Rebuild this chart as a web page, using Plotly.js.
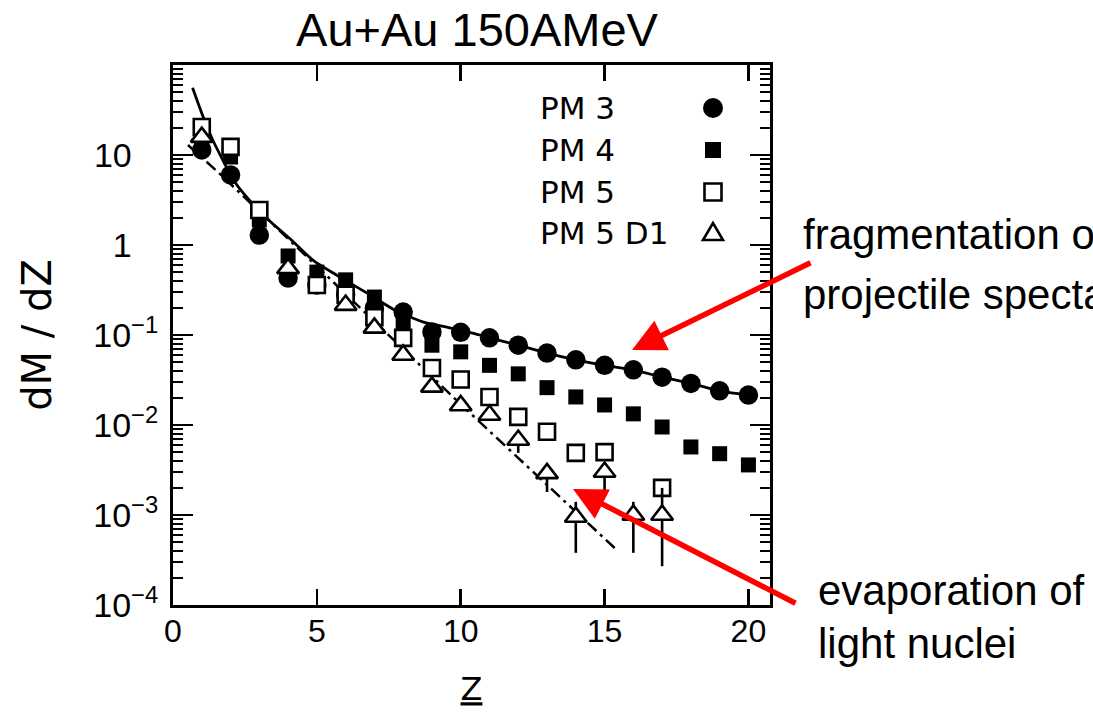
<!DOCTYPE html>
<html>
<head>
<meta charset="utf-8">
<script src="https://cdn.plot.ly/plotly-3.0.1.min.js"></script>
<style>html,body{margin:0;padding:0;background:#fff;}#chart{width:1093px;height:713px;}</style>
</head>
<body>
<div id="chart"></div>
<script>
// ---- data ----
var zValues = [1,2,3,4,5,6,7,8,9,10,11,12,13,14,15,16,17,18,19,20];
var pm3 = [11.4,6.0,1.29,0.43,0.36,0.28,0.2,0.18,0.108,0.107,0.093,0.077,0.063,0.053,0.046,0.041,0.034,0.029,0.024,0.0215];
var pm4 = [12.5,9.5,1.9,0.755,0.5,0.41,0.264,0.136,0.077,0.065,0.046,0.037,0.026,0.0205,0.0167,0.0133,0.0095,0.0057,0.0048,0.0036];
var pm5 = [20.5,12.3,2.45,null,0.36,0.28,0.158,0.093,0.043,0.032,0.0205,0.0123,0.0084,0.0049,0.005,null,0.002,null,null,null];
var pm5d1 = [15.8,null,null,0.55,null,0.215,0.12,0.06,0.0265,0.0165,0.0129,0.0068,0.0029,0.00095,0.003,0.001,0.001,null,null,null];
// ends of the vertical bars on the PM 5 D1 points (null = no bar)
var d1BarLow  = [null,null,null,null,null,null,null,null,null,null,null,0.0049,0.0018,0.00038,0.0018,0.00038,0.00027,null,null,null];
var d1BarHigh = [null,null,null,null,null,null,null,null,null,null,null,null,null,0.0014,null,0.0014,0.002,null,null,null];

// solid curve (projectile spectator fragmentation)
var fragZ = [0.68,1.04,1.39,2.15,2.67,3.4,4.1,4.86,5.7,6.84,7.7,8.68,9.62,10.66,11,12,13,14,15,16,17,18,19,20];
var fragY = [56,27,14.5,5.0,3.1,1.8,1.15,0.68,0.46,0.28,0.19,0.14,0.12,0.1,0.093,0.077,0.063,0.053,0.046,0.041,0.034,0.029,0.024,0.0215];
// dash-dot curve (evaporation)
var evapZ = [0.52,1.6,5,10,15.35];
var evapY = [12.9,6.3,0.58,0.017,0.00043];

var seriesNames = ['PM 3','PM 4','PM 5','PM 5 D1'];
var yTickVals = [1e-4,1e-3,1e-2,1e-1,1,10];
var yTickText = ['10<sup>\u22124</sup>','10<sup>\u22123</sup>','10<sup>\u22122</sup>','10<sup>\u22121</sup>','1','10'];
var xTickVals = [0,5,10,15,20];

// ---- build ----
var errPlus = [], errMinus = [];
for (var i = 0; i < zValues.length; i++) {
  var v = pm5d1[i];
  errPlus.push(v !== null && d1BarHigh[i] !== null ? d1BarHigh[i] - v : 0);
  errMinus.push(v !== null && d1BarLow[i] !== null ? v - d1BarLow[i] : 0);
}
var minorVals = [];
for (var e = -4; e < 2; e++) {
  for (var m = 2; m <= 9; m++) minorVals.push(m * Math.pow(10, e));
}
// pad labels without exponent so the base "10"/"1" line up with the exponent labels
var padSup = '<sup>\u2007\u2007</sup>';
var yTickShown = yTickText.map(function (t) { return t.indexOf('<sup>') >= 0 ? t : t + padSup; });

var traces = [
  {x: fragZ, y: fragY, mode: 'lines', line: {color: 'black', width: 2.8, shape: 'spline', smoothing: 0.6}, hoverinfo: 'skip'},
  {x: evapZ, y: evapY, mode: 'lines', line: {color: 'black', width: 2.5, dash: '12px,5px,3px,5px'}, hoverinfo: 'skip'},
  {x: zValues, y: pm3, name: seriesNames[0], mode: 'markers', marker: {symbol: 'circle', size: 19.5, color: 'black'}},
  {x: zValues, y: pm4, name: seriesNames[1], mode: 'markers', marker: {symbol: 'square', size: 15, color: 'black'}},
  {x: zValues, y: pm5, name: seriesNames[2], mode: 'markers', marker: {symbol: 'square', size: 16, color: 'white', line: {color: 'black', width: 2.6}}},
  {x: zValues, y: pm5d1, name: seriesNames[3], mode: 'markers',
   error_y: {type: 'data', symmetric: false, array: errPlus, arrayminus: errMinus, color: 'black', thickness: 2.6, width: 0},
   marker: {symbol: 'triangle-up', size: 19, color: 'white', line: {color: 'black', width: 2.6}}}
];

var L = 173, R = 770, T = 65, B = 605;
function px(x) { return (x - L) / (R - L); }
function py(y) { return (B - y) / (B - T); }

var legFont = {family: 'DejaVu Sans, sans-serif', size: 31, color: 'black'};
var legRows = [108, 150, 192, 233];
var annotations = [];
for (var k = 0; k < seriesNames.length; k++) {
  annotations.push({xref: 'paper', yref: 'paper', x: px(538), y: py(legRows[k]), xanchor: 'left', yanchor: 'middle',
    text: seriesNames[k].replace(/ /g, '\u00a0'), showarrow: false, font: legFont});
}
var redFont = {family: 'Liberation Sans, Arial, sans-serif', size: 42, color: 'black'};
annotations.push({xref: 'paper', yref: 'paper', x: px(801), y: py(235), xanchor: 'left', yanchor: 'middle', text: 'fragmentation of', showarrow: false, font: redFont});
annotations.push({xref: 'paper', yref: 'paper', x: px(801), y: py(294), xanchor: 'left', yanchor: 'middle', text: 'projectile spectators', showarrow: false, font: redFont});
annotations.push({xref: 'paper', yref: 'paper', x: px(816), y: py(590), xanchor: 'left', yanchor: 'middle', text: 'evaporation of', showarrow: false, font: redFont});
annotations.push({xref: 'paper', yref: 'paper', x: px(816), y: py(643), xanchor: 'left', yanchor: 'middle', text: 'light nuclei', showarrow: false, font: redFont});
// red arrows
annotations.push({xref: 'paper', yref: 'paper', x: px(632), y: py(350), ax: 812 - 632, ay: 262 - 350, text: '', showarrow: true,
  arrowhead: 2, arrowsize: 1.2, arrowwidth: 5.5, arrowcolor: '#ff0000', standoff: 0});
annotations.push({xref: 'paper', yref: 'paper', x: px(573), y: py(489), ax: 797 - 573, ay: 604 - 489, text: '', showarrow: true,
  arrowhead: 2, arrowsize: 1.2, arrowwidth: 5.5, arrowcolor: '#ff0000', standoff: 0});

var symX = px(713);
var shapes = [
  {type: 'circle', xref: 'paper', yref: 'paper', xsizemode: 'pixel', ysizemode: 'pixel', xanchor: symX, yanchor: py(108),
   x0: -10, x1: 10, y0: -10, y1: 10, fillcolor: 'black', line: {width: 0}},
  {type: 'rect', xref: 'paper', yref: 'paper', xsizemode: 'pixel', ysizemode: 'pixel', xanchor: symX, yanchor: py(150),
   x0: -8, x1: 8, y0: -8, y1: 8, fillcolor: 'black', line: {width: 0}},
  {type: 'rect', xref: 'paper', yref: 'paper', xsizemode: 'pixel', ysizemode: 'pixel', xanchor: symX, yanchor: py(192),
   x0: -8.5, x1: 8.5, y0: -8.5, y1: 8.5, fillcolor: 'white', line: {width: 2.6, color: 'black'}},
  {type: 'path', xref: 'paper', yref: 'paper', xsizemode: 'pixel', ysizemode: 'pixel', xanchor: symX, yanchor: py(233),
   path: 'M -10 -7 L 10 -7 L 0 10 Z', fillcolor: 'white', line: {width: 2.6, color: 'black'}}
];

var tickFont = {family: 'Liberation Sans, Arial, sans-serif', size: 32, color: 'black'};
var yTickFont = {family: 'Liberation Sans, Arial, sans-serif', size: 34, color: 'black'};

var layout = {
  width: 1093, height: 713,
  margin: {l: L, r: 1093 - R, t: T, b: 713 - B, pad: 0},
  paper_bgcolor: 'white', plot_bgcolor: 'white',
  showlegend: false,
  title: {text: 'Au+Au 150AMeV', font: {family: 'Liberation Sans, Arial, sans-serif', size: 47, color: 'black'},
          xref: 'container', yref: 'container', x: 477 / 1093, y: 1 - 30 / 713, xanchor: 'center', yanchor: 'middle'},
  xaxis: {
    type: 'linear', range: [0, 20.75], showgrid: false, zeroline: false,
    showline: true, linecolor: 'black', linewidth: 3, mirror: 'ticks',
    ticks: 'inside', ticklen: 16, tickwidth: 2.5, tickcolor: 'black',
    tickmode: 'array', tickvals: xTickVals, ticktext: xTickVals.map(String),
    tickfont: tickFont, ticklabelstandoff: -4,
    title: {text: '<u>Z</u>', font: {family: 'DejaVu Sans, sans-serif', size: 32, color: 'black'}, standoff: 30}
  },
  yaxis: {
    type: 'log', range: [-4, 2], showgrid: false, zeroline: false,
    showline: true, linecolor: 'black', linewidth: 3, mirror: 'ticks',
    ticks: 'inside', ticklen: 20, tickwidth: 2.5, tickcolor: 'black',
    tickmode: 'array', tickvals: yTickVals, ticktext: yTickShown,
    tickfont: yTickFont, ticklabelstandoff: 5,
    minor: {tickmode: 'array', tickvals: minorVals, ticks: 'inside', ticklen: 10, tickwidth: 2, tickcolor: 'black', showgrid: false},
    title: {text: 'dM\u00a0/\u00a0dZ', font: {family: 'DejaVu Sans, sans-serif', size: 40, color: 'black'}, standoff: 30}
  },
  annotations: annotations,
  shapes: shapes
};

Plotly.newPlot('chart', traces, layout, {displayModeBar: false, staticPlot: true});
</script>
</body>
</html>
